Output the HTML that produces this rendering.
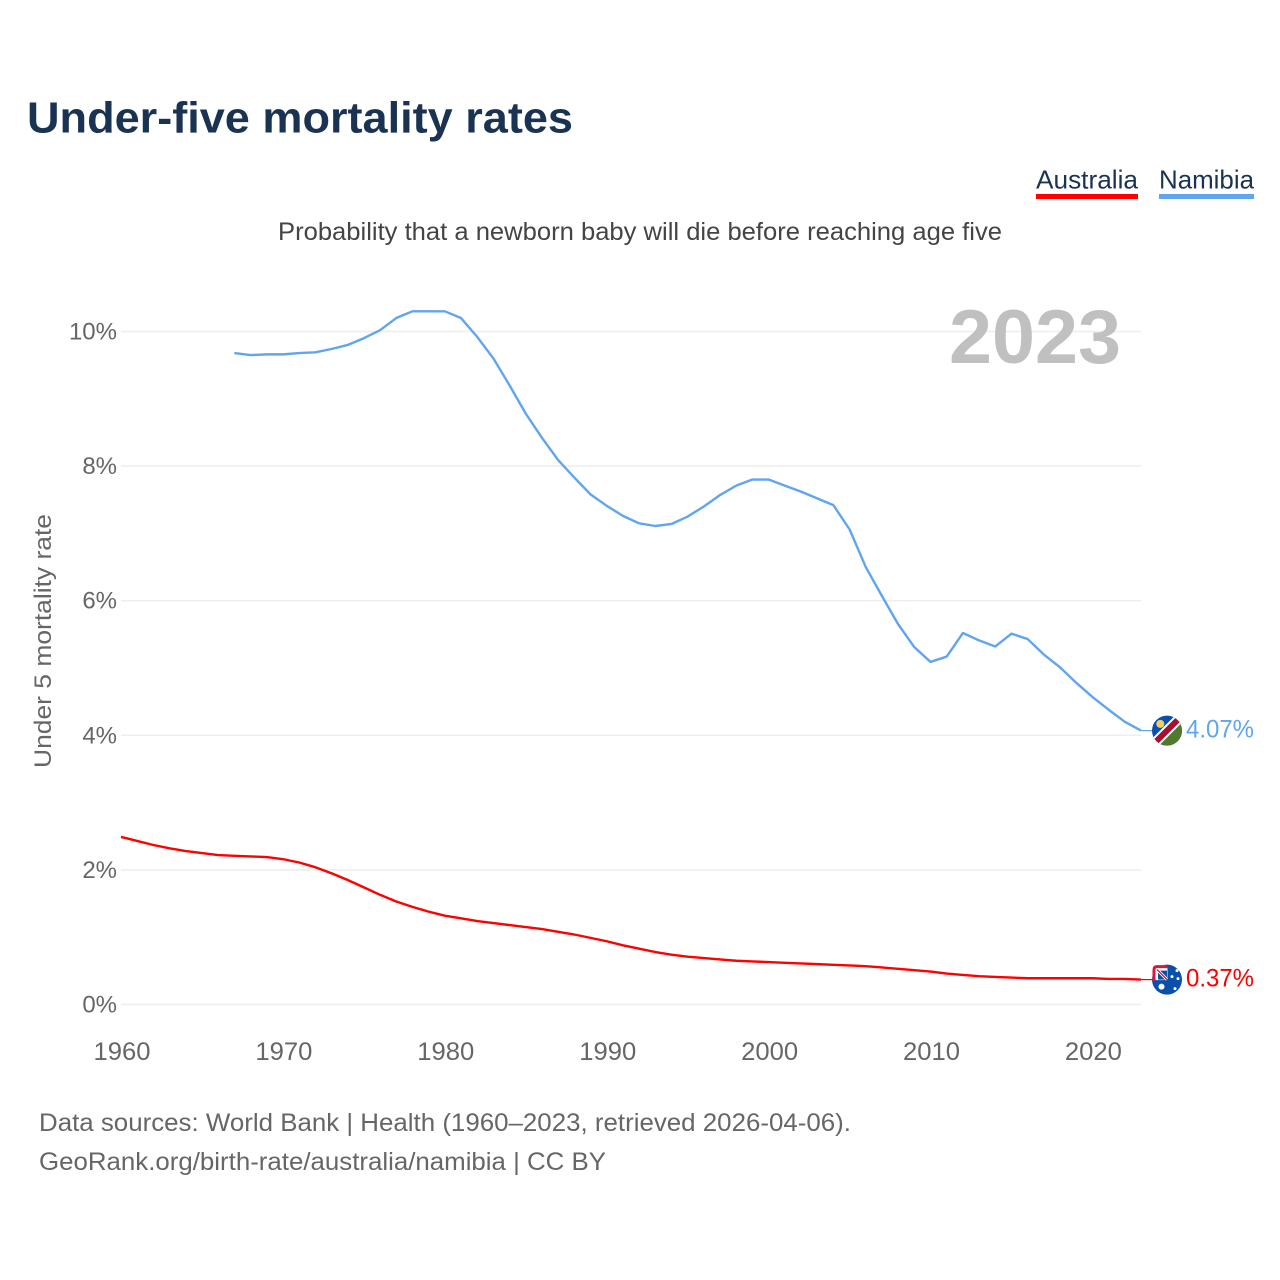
<!DOCTYPE html>
<html lang="en">
<head>
<meta charset="utf-8">
<title>Under-five mortality rates</title>
<style>
html,body{margin:0;padding:0;background:#fff;}
svg{display:block;font-family:"Liberation Sans",sans-serif;}
</style>
</head>
<body>
<svg id="chart" width="1280" height="1280" viewBox="0 0 1280 1280" xmlns="http://www.w3.org/2000/svg">
  <defs>
    <clipPath id="flag-clip"><circle cx="0" cy="0" r="15"></circle></clipPath>
  </defs>
  <rect x="0" y="0" width="1280" height="1280" fill="#ffffff"></rect>
  <text x="27" y="132.5" font-size="44" font-weight="700" fill="#1a3353" textLength="546" lengthAdjust="spacingAndGlyphs">Under-five mortality rates</text>
  <text x="1036" y="188.5" font-size="26" fill="#1a3353" textLength="102" lengthAdjust="spacingAndGlyphs">Australia</text>
  <rect x="1036" y="194" width="102" height="5" fill="#ff0000"></rect>
  <text x="1159" y="188.5" font-size="26" fill="#1a3353" textLength="95" lengthAdjust="spacingAndGlyphs">Namibia</text>
  <rect x="1159" y="194" width="95" height="5" fill="#60a5ee"></rect>
  <text x="640" y="240" font-size="25" fill="#444444" text-anchor="middle" textLength="724" lengthAdjust="spacingAndGlyphs">Probability that a newborn baby will die before reaching age five</text>
  <text transform="translate(51 641) rotate(-90)" font-size="24.5" fill="#666666" text-anchor="middle" textLength="254" lengthAdjust="spacingAndGlyphs">Under 5 mortality rate</text>
  <g id="grid"></g>
  <g id="yticks"></g>
  <g id="xticks"></g>
  <text id="year-label" x="949" y="363" font-size="76" font-weight="700" fill="#c0c0c0" textLength="172" lengthAdjust="spacingAndGlyphs">2023</text>
  <g id="series"></g>

  <g id="flag-namibia">
    <g clip-path="url(#flag-clip)">
      <rect x="-16" y="-16" width="32" height="32" fill="#0a4fb0"></rect>
      <polygon points="16,-16 16,16 -16,16" fill="#4f7a2e"></polygon>
      <polygon points="-16,9 9,-16 16,-9 -9,16" fill="#ffffff"></polygon>
      <polygon points="-16,11.8 11.8,-16 16,-11.8 -11.8,16" fill="#ffffff"></polygon>
      <polygon points="-15.5,11.3 11.3,-15.5 15.5,-11.3 -11.3,15.5" fill="#a8102e"></polygon>
      <circle cx="-6.7" cy="-6.7" r="4" fill="#f0cf5a"></circle>
    </g>
  </g>
  <g id="flag-australia">
    <circle cx="0" cy="0" r="15" fill="#0a4fa8"></circle>
    <rect x="-14.5" y="-14.5" width="15" height="15" rx="4" fill="#ffffff"></rect>
    <path d="M-13,1 V-10 Q-13,-13 -10,-13 H0" fill="none" stroke="#e0143c" stroke-width="3"></path>
    <rect x="-9" y="-9" width="9" height="9" fill="#0a4fa8"></rect>
    <path d="M-10,-10 L0,0" stroke="#ffffff" stroke-width="3"></path>
    <path d="M-10,-10 L0,0" stroke="#c8143c" stroke-width="1.2"></path>
    <circle cx="-5.5" cy="7" r="3" fill="#ffffff"></circle>
    <circle cx="10" cy="-9" r="1.5" fill="#ffffff"></circle>
    <circle cx="11" cy="-1" r="1.5" fill="#ffffff"></circle>
    <circle cx="5" cy="-3" r="1.5" fill="#ffffff"></circle>
    <circle cx="8" cy="9" r="1.5" fill="#ffffff"></circle>
  </g>

  <text x="39" y="1131" font-size="25" fill="#666666" textLength="812" lengthAdjust="spacingAndGlyphs">Data sources: World Bank | Health (1960–2023, retrieved 2026-04-06).</text>
  <text x="39" y="1170" font-size="25" fill="#666666" textLength="567" lengthAdjust="spacingAndGlyphs">GeoRank.org/birth-rate/australia/namibia | CC BY</text>
</svg>
<script>
const xTickYears = [1960, 1970, 1980, 1990, 2000, 2010, 2020];
const yTickValues = [0, 2, 4, 6, 8, 10];
const australiaStartYear = 1960;
const namibiaStartYear = 1967;
const australiaValues = [2.49,2.43,2.37,2.32,2.28,2.25,2.22,2.21,2.20,2.19,2.16,2.11,2.04,1.95,1.85,1.74,1.63,1.53,1.45,1.38,1.32,1.28,1.24,1.21,1.18,1.15,1.12,1.08,1.04,0.99,0.94,0.88,0.83,0.78,0.74,0.71,0.69,0.67,0.65,0.64,0.63,0.62,0.61,0.60,0.59,0.58,0.57,0.55,0.53,0.51,0.49,0.46,0.44,0.42,0.41,0.40,0.39,0.39,0.39,0.39,0.39,0.38,0.38,0.37];
const namibiaValues = [9.68,9.65,9.66,9.66,9.68,9.69,9.74,9.80,9.90,10.02,10.2,10.3,10.3,10.3,10.2,9.92,9.6,9.2,8.78,8.42,8.09,7.83,7.58,7.41,7.26,7.15,7.11,7.14,7.25,7.40,7.57,7.71,7.80,7.80,7.71,7.62,7.52,7.42,7.06,6.50,6.07,5.65,5.31,5.09,5.17,5.52,5.41,5.32,5.51,5.43,5.20,5.01,4.78,4.57,4.38,4.20,4.07];
const lastYear = 2023;

const NS = 'http://www.w3.org/2000/svg';
function xScale(year) { return 121 + (year - 1960) * (1141 - 121) / (lastYear - 1960); }
function yScale(v) { return 1004.5 - v * 67.3; }
function make(tag, attrs, parent, text) {
  const el = document.createElementNS(NS, tag);
  Object.keys(attrs).forEach(function (k) { el.setAttribute(k, attrs[k]); });
  if (text !== undefined) el.textContent = text;
  parent.appendChild(el);
  return el;
}

const grid = document.getElementById('grid');
const yticks = document.getElementById('yticks');
const xticks = document.getElementById('xticks');
const series = document.getElementById('series');
const svgRoot = document.getElementById('chart');

yTickValues.forEach(function (v) {
  const line = make('line', { x1: 121, x2: 1141, y1: yScale(v), y2: yScale(v), stroke: '#eeeeee', 'stroke-width': 1.6 }, grid);
  
  
  const label = make('text', { x: 117, y: yScale(v) + 8, 'font-size': 24, fill: '#666666', 'text-anchor': 'end' }, yticks, v + '%');
  
  
});

xTickYears.forEach(function (year) {
  const label = make('text', { x: xScale(year) + 1, y: 1060, 'font-size': 25, fill: '#666666', 'text-anchor': 'middle', textLength: 57, lengthAdjust: 'spacingAndGlyphs' }, xticks, String(year));
  
  
});

function linePoints(values, startYear) {
  return values.map(function (v, i) { return xScale(startYear + i).toFixed(2) + ',' + yScale(v).toFixed(2); }).join(' ');
}

const namibiaLine = make('polyline', { points: linePoints(namibiaValues, namibiaStartYear), fill: 'none', stroke: '#60a5ee', 'stroke-width': 2.4, 'stroke-linejoin': 'round' }, series);



const australiaLine = make('polyline', { points: linePoints(australiaValues, australiaStartYear), fill: 'none', stroke: '#ff0000', 'stroke-width': 2.4, 'stroke-linejoin': 'round' }, series);



const namibiaLast = namibiaValues[namibiaValues.length - 1];
const australiaLast = australiaValues[australiaValues.length - 1];

const namibiaLead = make('line', { x1: 1141, x2: 1153, y1: yScale(namibiaLast), y2: yScale(namibiaLast), stroke: '#60a5ee', 'stroke-width': 1.2 }, series);



const australiaLead = make('line', { x1: 1141, x2: 1153, y1: yScale(australiaLast), y2: yScale(australiaLast), stroke: '#ff0000', 'stroke-width': 1.2 }, series);



document.getElementById('flag-namibia').setAttribute('transform', 'translate(1167 ' + yScale(namibiaLast) + ')');
document.getElementById('flag-australia').setAttribute('transform', 'translate(1167 ' + yScale(australiaLast) + ')');

const namibiaValueLabel = make('text', { x: 1186, y: yScale(namibiaLast) + 7, 'font-size': 25, fill: '#60a5ee', textLength: 68, lengthAdjust: 'spacingAndGlyphs' }, svgRoot, namibiaLast.toFixed(2) + '%');



const australiaValueLabel = make('text', { x: 1186, y: yScale(australiaLast) + 7, 'font-size': 25, fill: '#ff0000', textLength: 68, lengthAdjust: 'spacingAndGlyphs' }, svgRoot, australiaLast.toFixed(2) + '%');


</script>
</body>
</html>
